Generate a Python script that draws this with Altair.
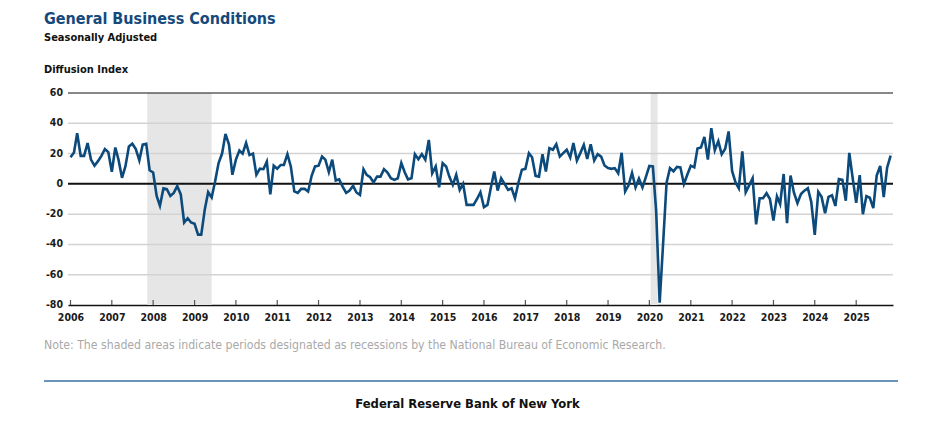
import altair as alt
import pandas as pd

# ---- data (General Business Conditions, diffusion index, monthly, Jan 2006 - Nov 2025)
v2006 = [17.6, 20.7, 33.5, 18.5, 18.5, 27.0, 16.0, 12.0, 15.0, 18.5, 23.0, 21.0]
v2007 = [8.0, 24.0, 16.0, 4.0, 11.5, 24.7, 26.5, 23.0, 15.5, 26.0, 26.5, 9.0]
v2008 = [7.5, -8.0, -14.5, -3.0, -3.5, -8.0, -6.0, -1.5, -7.0, -25.5, -22.7, -25.5]
v2009 = [-26.4, -33.5, -33.5, -17.0, -5.5, -9.0, 1.5, 13.7, 20.0, 33.0, 26.0, 6.0]
v2010 = [16.0, 22.0, 20.0, 27.0, 19.0, 20.0, 6.0, 10.0, 9.7, 14.7, -7.0, 12.0]
v2011 = [10.0, 12.5, 12.5, 19.6, 11.5, -5.0, -6.0, -3.3, -3.3, -5.0, 5.3, 11.5]
v2012 = [12.0, 18.0, 16.0, 7.7, 16.0, 2.2, 3.0, -1.8, -6.0, -4.4, -1.3, -5.7]
v2013 = [-7.3, 9.7, 6.0, 4.4, 1.0, 4.8, 4.8, 9.7, 7.5, 3.7, 2.6, 3.7]
v2014 = [13.7, 7.5, 3.0, 3.7, 19.6, 16.3, 19.6, 15.9, 29.0, 7.0, 11.5, -2.2]
v2015 = [13.7, 11.5, 4.8, -0.7, 6.0, -4.0, 0.0, -13.9, -13.9, -13.9, -10.0, -5.5]
v2016 = [-15.4, -13.9, -2.9, 8.1, -4.4, 3.7, 0.0, -4.0, -2.9, -9.5, 0.9, 9.3]
v2017 = [9.9, 20.3, 17.6, 5.3, 4.8, 19.6, 8.1, 23.6, 22.5, 26.2, 18.0, 20.3]
v2018 = [22.5, 17.4, 26.9, 15.4, 20.3, 25.8, 16.5, 26.2, 15.4, 19.6, 18.0, 12.1]
v2019 = [10.4, 9.9, 10.4, 7.0, 20.5, -5.0, -1.0, 7.3, -2.3, 3.5, -2.3, 4.5]
v2020 = [11.8, 11.5, -18.0, -78.5, -40.0, 0.8, 10.4, 8.3, 11.2, 10.9, -0.1, 6.0]
v2021 = [12.0, 10.9, 23.3, 24.0, 31.0, 16.0, 36.8, 22.2, 28.2, 19.5, 23.2, 34.6]
v2022 = [8.4, 0.8, -2.9, 21.5, -5.6, -1.0, 3.7, -26.8, -9.5, -9.5, -6.2, -10.0]
v2023 = [-24.2, -8.2, -13.3, 6.5, -26.0, 5.5, -5.8, -12.8, -6.7, -4.5, -2.8, -12.0]
v2024 = [-33.7, -5.3, -8.6, -19.4, -8.6, -7.6, -14.6, 3.1, 2.6, -11.1, 20.4, 3.7]
v2025 = [-12.6, 5.7, -20.0, -8.1, -9.2, -16.0, 5.5, 11.9, -8.7, 10.7, 18.7]

series = (v2006 + v2007 + v2008 + v2009 + v2010 + v2011 + v2012 + v2013 + v2014 +
          v2015 + v2016 + v2017 + v2018 + v2019 + v2020 + v2021 + v2022 + v2023 +
          v2024 + v2025)
months = pd.date_range("2006-01-01", periods=len(series), freq="MS").strftime("%Y-%m-%dT00:00:00")
df = pd.DataFrame({"date": months, "value": series})

years = list(range(2006, 2026))
year_ticks = pd.DataFrame({"date": [f"{y}-01-01T00:00:00" for y in years]})

rec_start = ["2007-11-10T00:00:00", "2020-01-12T00:00:00"]
rec_end = ["2009-06-01T00:00:00", "2020-03-14T00:00:00"]
rec = pd.DataFrame({"start": rec_start, "end": rec_end})

grid_vals = [-60, -40, -20, 20, 40]
y_ticks = [-80, -60, -40, -20, 0, 20, 40, 60]
y_tick_df = pd.DataFrame({"v": y_ticks, "label": [str(v) for v in y_ticks]})

title_text = "General Business Conditions"
subtitle_text = "Seasonally Adjusted"
ylabel_text = "Diffusion Index"
note_text = "Note: The shaded areas indicate periods designated as recessions by the National Bureau of Economic Research."
footer_text = "Federal Reserve Bank of New York"

FONT = "Liberation Sans Narrow, Arial Narrow, DejaVu Sans Condensed, sans-serif"
W, H = 825, 212

xscale = alt.Scale(domain=[alt.DateTime(year=2005, month=12, date=10),
                           alt.DateTime(year=2025, month=11, date=22)])
yscale = alt.Scale(domain=[-80, 60], nice=False, zero=False)

x_axis = alt.Axis(
    values=[alt.DateTime(year=y, month=1, date=1) for y in years],
    format="%Y",
    ticks=False,
    grid=False,
    domain=True,
    domainColor="#111111",
    domainWidth=1.5,
    labelPadding=7,
    labelFont=FONT,
    labelFontSize=10.5,
    labelFontWeight="bold",
    labelColor="#1a1a1a",
    labelFlush=False,
    labelOverlap=False,
)
# y axis: only a hidden-label axis so every layer agrees; labels drawn as text marks
y_axis = alt.Axis(labels=False, ticks=False, grid=False, domain=False, title=None)

bands = alt.Chart(rec).mark_rect(color="#e6e6e6").encode(
    x=alt.X("start:T", scale=xscale, title=None, axis=x_axis),
    x2="end:T",
)

grid = alt.Chart(pd.DataFrame({"v": grid_vals})).mark_rule(color="#d3d3d3", strokeWidth=1.5).encode(
    y=alt.Y("v:Q", scale=yscale, axis=y_axis)
)

black_lines = alt.Chart(pd.DataFrame({"v": [60, 0], "w": [1.2, 2.0]})).mark_rule(color="#111111").encode(
    y=alt.Y("v:Q", scale=yscale, axis=y_axis),
    strokeWidth=alt.StrokeWidth("w:Q", scale=None, legend=None),
)

ticks = alt.Chart(year_ticks).mark_rule(color="#555555", strokeWidth=1.2).encode(
    x=alt.X("date:T", scale=xscale, title=None, axis=x_axis),
    y=alt.YDatum(-80, scale=yscale, axis=y_axis),
    y2=alt.datum(-76.7),
)

line = alt.Chart(df).mark_line(color="#0c4a7c", strokeWidth=2.6, strokeJoin="miter").encode(
    x=alt.X("date:T", scale=xscale, title=None, axis=x_axis),
    y=alt.Y("value:Q", scale=yscale, axis=y_axis),
)

ylabels = alt.Chart(y_tick_df).mark_text(
    align="right", baseline="middle", font=FONT, fontSize=10.5,
    fontWeight="bold", color="#1a1a1a",
).encode(
    y=alt.Y("v:Q", scale=yscale, axis=y_axis),
    x=alt.value(-5),
    text="label:N",
)


def txt(s, x, y, size, weight="normal", color="#000000", align="left"):
    return alt.Chart(pd.DataFrame({"t": [s]})).mark_text(
        align=align, baseline="middle", font=FONT, fontSize=size,
        fontWeight=weight, color=color,
    ).encode(text="t:N", x=alt.value(x), y=alt.value(y))


title = txt(title_text, -24, -74, 16, "bold", "#15497c")
subtitle = txt(subtitle_text, -24, -55.5, 11, "bold", "#111111")
ylabel = txt(ylabel_text, -24, -23, 11, "bold", "#111111")
note = txt(note_text, -24, 252, 12.2, "normal", "#a9a9a9")
footer = txt(footer_text, 399.5, 311, 12.9, "bold", "#111111", align="center")

sep = alt.Chart(pd.DataFrame({"a": [0]})).mark_rule(color="#6a93b9", strokeWidth=2).encode(
    x=alt.value(-24), x2=alt.value(830), y=alt.value(288)
)

chart = alt.layer(
    bands, grid, black_lines, ticks, line, ylabels, title, subtitle, ylabel, note, sep, footer
).properties(
    width=W, height=H,
    autosize=alt.AutoSizeParams(type="none"),
    padding={"left": 60, "top": 85, "right": 46, "bottom": 110},
    background="white",
).configure_view(stroke=None)

chart.save("out.html", embed_options={"renderer": "svg", "actions": False})
